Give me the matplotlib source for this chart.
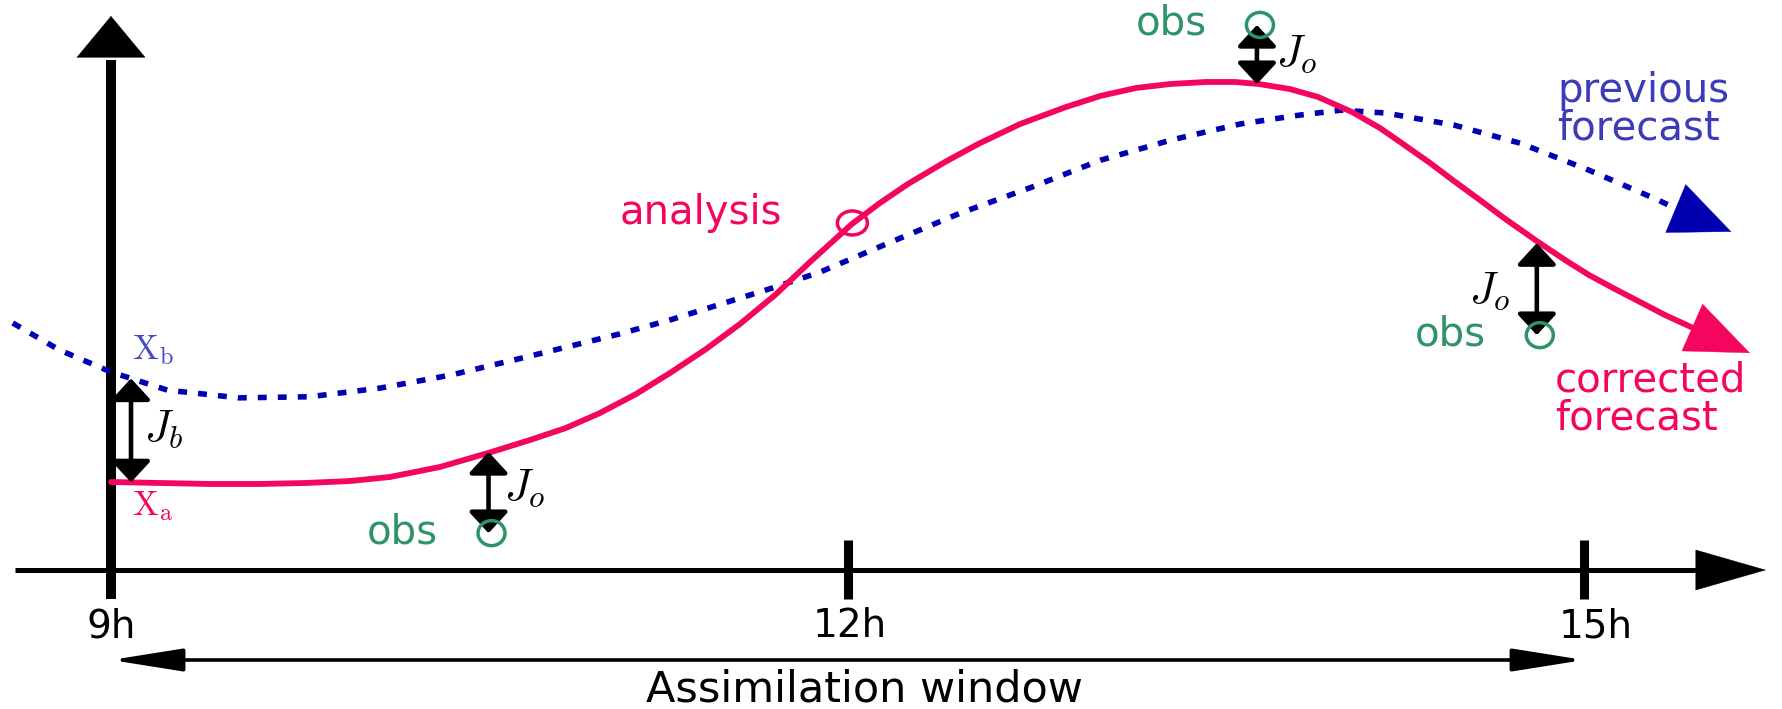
import numpy as np
import matplotlib
matplotlib.use("Agg")
import matplotlib.pyplot as plt
from matplotlib.patches import Ellipse

plt.rcParams['font.family'] = ['DejaVu Sans']
plt.rcParams['mathtext.fontset'] = 'cm'

# ---------------- data (time in hours, state in arbitrary units) ----------------
prev_t = [8.60, 8.79, 9.00, 9.23, 9.52, 9.81, 10.10, 10.39, 10.68, 11.07, 11.28,
          11.71, 11.89, 12.17, 12.46, 12.75, 13.03, 13.32, 13.60, 13.84, 14.01,
          14.19, 14.47, 14.74, 15.02, 15.30, 15.38, 15.60]
prev_v = [4.49, 4.00, 3.60, 3.27, 3.13, 3.15, 3.31, 3.55, 3.86, 4.29, 4.55,
          5.15, 5.42, 5.95, 6.49, 6.96, 7.45, 7.82, 8.11, 8.27, 8.36,
          8.31, 8.09, 7.76, 7.27, 6.73, 6.56, 6.15]

corr_t = [9.000, 9.200, 9.403, 9.607, 9.794, 9.974, 10.136, 10.340, 10.536, 10.707,
          10.853, 10.992, 11.139, 11.277, 11.424, 11.562, 11.705, 11.847, 12.018,
          12.132, 12.246, 12.397, 12.532, 12.703, 12.890, 13.029, 13.175, 13.314,
          13.460, 13.578, 13.676, 13.802, 13.917, 14.055, 14.169, 14.263, 14.373,
          14.470, 14.576, 14.674, 14.813, 14.923, 15.020, 15.126, 15.228, 15.330,
          15.436, 15.676]
corr_v = [1.600, 1.582, 1.564, 1.564, 1.582, 1.618, 1.691, 1.873, 2.127, 2.364,
          2.582, 2.855, 3.200, 3.582, 4.018, 4.473, 5.000, 5.600, 6.291,
          6.673, 7.018, 7.418, 7.745, 8.109, 8.418, 8.618, 8.764, 8.836,
          8.873, 8.873, 8.836, 8.745, 8.600, 8.327, 8.036, 7.745, 7.400,
          7.073, 6.727, 6.400, 5.964, 5.636, 5.364, 5.109, 4.873, 4.636,
          4.418, 3.945]

obs_t = [10.55, 13.68, 14.82]
obs_v = [0.67, 9.91, 4.27]

analysis_t = 12.02
analysis_v = 6.31

tick_hours = [9, 12, 15]
tick_labels = ['9h', '12h', '15h']
window_hours = [9, 15]

# ---------------- colours ----------------
PINK = '#f4065f'
BLUE = '#0000b0'
BLUE_TXT = '#3c3cb8'
GREEN = '#2e9467'

# ---------------- figure ----------------
W, H = 1782, 709
fig = plt.figure(figsize=(W / 100, H / 100), dpi=100)
ax = fig.add_axes([0, 0, 1, 1])
ax.set_axis_off()

PXH = 245.5          # pixels per hour
def hx(px):          # layout helper: pixel column -> hours
    return 9 + (px - 111) / PXH
def vy(py):          # layout helper: pixel row -> state value
    return (570 - py) / 55.0

ax.set_xlim(hx(0), hx(W))
ax.set_ylim(vy(H), vy(0))


def head(tail, tip, hl, hw, color, lw=0.3):
    ax.annotate('', xy=tip, xytext=tail,
                arrowprops=dict(arrowstyle=f'-|>,head_length={hl},head_width={hw}',
                                color=color, lw=lw, shrinkA=0, shrinkB=0,
                                mutation_scale=1))


def dbl(p0, p1, hl=13, hw=12, lw=3.3, color='k'):
    ax.annotate('', xy=p1, xytext=p0,
                arrowprops=dict(arrowstyle=f'<|-|>,head_length={hl},head_width={hw}',
                                color=color, lw=lw, shrinkA=0, shrinkB=0,
                                mutation_scale=1))


# ---- axes ----
ax.plot([hx(15), hx(1700)], [vy(570), vy(570)], color='k', lw=3.6, solid_capstyle='butt')
head((hx(1696), vy(570)), (hx(1766), vy(570)), 50, 14.4, 'k')
ax.plot([9, 9], [vy(599), vy(60)], color='k', lw=7.2, solid_capstyle='butt')
head((9, vy(57)), (9, vy(16)), 29.5, 24.5, 'k')

label_dx = [0, 2, 12]
for t, lab, dx in zip(tick_hours, tick_labels, label_dx):
    if t != tick_hours[0]:
        ax.plot([t, t], [vy(540), vy(599)], color='k', lw=6.5, solid_capstyle='butt')
    ax.text(t + dx / PXH, vy(626), lab, ha='center', va='center', fontsize=28, color='k')

# assimilation window
dbl((window_hours[0], vy(660)), (window_hours[1], vy(660)), hl=44, hw=7, lw=2.6)
ax.text(hx(864), vy(689), 'Assimilation window', ha='center', va='center',
        fontsize=31, color='k')

# ---- curves ----
ax.plot(prev_t[:-1], prev_v[:-1], color=BLUE, lw=4.0, ls=(0, (1.6, 2.0)),
        dash_capstyle='butt')
head((prev_t[-2], prev_v[-2]), (prev_t[-1], prev_v[-1]), 43, 18.7, BLUE)

ax.plot(corr_t[:-1], corr_v[:-1], color=PINK, lw=4.2, solid_capstyle='round',
        solid_joinstyle='round')
head((corr_t[-2], corr_v[-2]), (corr_t[-1], corr_v[-1]), 45, 18.4, PINK)

# ---- analysis ----
ax.add_patch(Ellipse((analysis_t, analysis_v), 30 / PXH, 24 / 55.0, fill=False,
                     ec=PINK, lw=2.5, zorder=4))
ax.annotate('analysis', (analysis_t, analysis_v), xytext=(-152 * 0.72, -1 * 0.72),
            textcoords='offset points', ha='center', va='baseline',
            fontsize=29, color=PINK)

# ---- observations and Jo ----
curve_at_obs = np.interp(obs_t, corr_t, corr_v)
for t, v, c in zip(obs_t, obs_v, curve_at_obs):
    ax.add_patch(Ellipse((t, v), 27 / PXH, 25 / 55.0, fill=False, ec=GREEN, lw=2.5,
                         zorder=4))
    ax.annotate('obs', (t, v), xytext=(-89 * 0.72, -10 * 0.72), textcoords='offset points',
                ha='center', va='baseline', fontsize=29, color=GREEN)
    dbl((t - 3 / PXH, c), (t - 3 / PXH, v))

ax.text(hx(504), vy(488), r'$J_o$', fontsize=32, ha='left', va='center')
ax.text(hx(1276), vy(54), r'$J_o$', fontsize=32, ha='left', va='center')
ax.text(hx(1469), vy(290), r'$J_o$', fontsize=32, ha='left', va='center')

# ---- Jb ----
tb = 9 + 20 / PXH
dbl((tb, np.interp(tb, prev_t, prev_v)), (tb, np.interp(tb, corr_t, corr_v)))
ax.text(hx(144), vy(428), r'$J_b$', fontsize=32, ha='left', va='center')

ax.text(hx(132), vy(350), r'$\mathrm{X}_{\mathrm{b}}$', fontsize=25, color='#4a4ac8',
        ha='left', va='center')
ax.text(hx(132), vy(506), r'$\mathrm{X}_{\mathrm{a}}$', fontsize=25, color=PINK,
        ha='left', va='center')

# ---- curve labels ----
ax.text(hx(1557), vy(102), 'previous', fontsize=29, color=BLUE_TXT, ha='left', va='baseline')
ax.text(hx(1557), vy(140), 'forecast', fontsize=29, color=BLUE_TXT, ha='left', va='baseline')
ax.text(hx(1555), vy(391), 'corrected', fontsize=29, color=PINK, ha='left', va='baseline')
ax.text(hx(1555), vy(429), 'forecast', fontsize=29, color=PINK, ha='left', va='baseline')

fig.savefig('out.png', dpi=100)
